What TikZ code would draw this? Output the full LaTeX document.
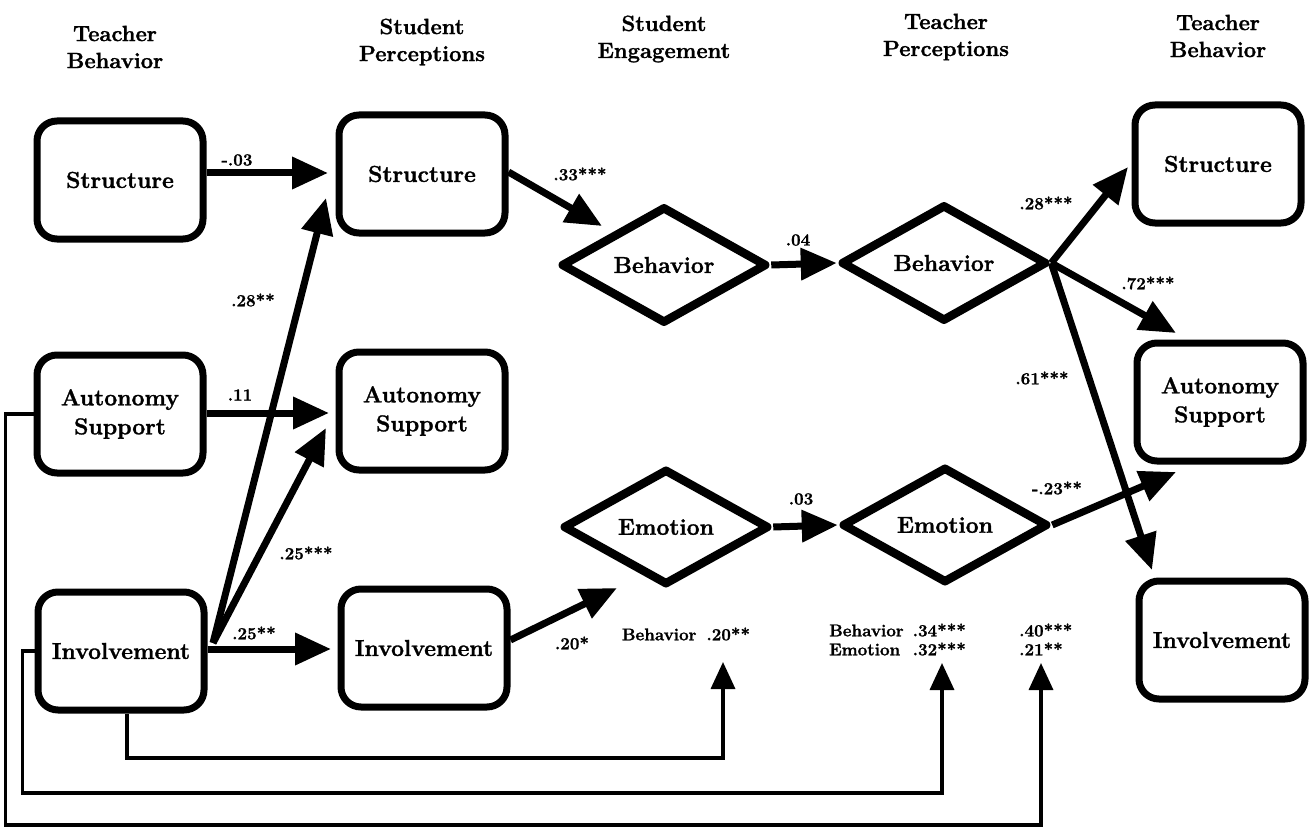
\documentclass[tikz,border=0pt]{standalone}
\usepackage{fontspec}
\setmainfont{Latin Modern Roman}[BoldFeatures={FakeBold=1.3}]
\usetikzlibrary{shapes.geometric,arrows.meta,calc}
\begin{document}
\begin{tikzpicture}[x=1pt,y=-1pt,
  box/.style={draw, line width=7pt, rounded corners=20pt, minimum width=166pt, minimum height=118pt, inner sep=0pt, align=center, font=\fontsize{23}{29}\selectfont\bfseries},
  dia/.style={draw, diamond, line width=8.5pt, line join=round, minimum width=206pt, minimum height=116pt, inner sep=0pt, font=\fontsize{23}{29}\selectfont\bfseries},
  hdr/.style={align=center, font=\fontsize{22}{27}\selectfont\bfseries, inner sep=0pt},
  lab/.style={font=\fontsize{17}{20}\selectfont\bfseries, inner sep=0pt},
  blab/.style={font=\fontsize{17}{19}\selectfont\bfseries, inner sep=0pt},
  bigarr/.style={line width=7pt, -{Triangle[length=36pt,width=31pt]}},
  thinarr/.style={line width=3.5pt, -{Triangle[length=27pt,width=24pt]}},
]
\useasboundingbox (0,0) rectangle (1310,832);

% headers
\node[hdr] (h1) at (115,47) {Teacher\\Behavior};
\node[hdr] (h2) at (422,42) {Student\\Perceptions};
\node[hdr] (h3) at (664,39) {Student\\Engagement};
\node[hdr] (h4) at (946,37) {Teacher\\Perceptions};
\node[hdr] (h5) at (1218,36) {Teacher\\Behavior};

% boxes
\node[box] (LS) at (120,180) {Structure};
\node[box] (LA) at (120,414) {Autonomy\\Support};
\node[box] (LI) at (121,651) {Involvement};
\node[box] (MS) at (422,174) {Structure};
\node[box] (MA) at (422,411) {Autonomy\\Support};
\node[box] (MI) at (424,648) {Involvement};
\node[box] (RS) at (1218,164) {Structure};
\node[box] (RA) at (1220,402) {Autonomy\\Support};
\node[box] (RI) at (1222,640) {Involvement};

% diamonds
\node[dia] (B1) at (664,265) {Behavior};
\node[dia] (B2) at (944,263) {Behavior};
\node[dia] (E1) at (666,527) {Emotion};
\node[dia] (E2) at (945,525) {Emotion};

% arrow tips / helper coordinates
\coordinate (tS1) at (328,173);
\coordinate (fan) at (213,643);
\coordinate (tS2) at (326,198);
\coordinate (tA1) at (329,413);
\coordinate (tA2) at (326,428);
\coordinate (tI1) at (331,649);
\coordinate (tB1) at (602,226);
\coordinate (tE1) at (617,588);
\coordinate (tRS) at (1128,167);
\coordinate (tRA) at (1176,333);
\coordinate (tRI) at (1152,570);
\coordinate (tRA2) at (1176,472);
\coordinate (c20) at (723,662);
\coordinate (c34) at (942,663);
\coordinate (c40) at (1041,663);
\coordinate (b1) at (723,758);
\coordinate (b2) at (942,793);
\coordinate (b3) at (1041,825);

% thick arrows
\draw[bigarr] (LS.east |- tS1) -- (tS1);
\draw[bigarr] (fan) -- (tS2);
\draw[bigarr] (LA.east |- tA1) -- (tA1);
\draw[bigarr] (fan) -- (tA2);
\draw[bigarr] (LI.east |- tI1) -- (tI1);
\draw[bigarr] ([yshift=2pt]MS.east) -- (tB1);
\draw[bigarr] ([yshift=8pt]MI.east) -- (tE1);
\draw[bigarr] (B1.east) -- (B2.west);
\draw[bigarr] (E1.east) -- (E2.west);
\draw[bigarr] (B2.east) -- (tRS);
\draw[bigarr] (B2.east) -- (tRA);
\draw[bigarr] (B2.east) -- (tRI);
\draw[bigarr] (E2.east) -- (tRA2);

% thin connectors
\draw[thinarr] ([xshift=6pt]LI.south) |- (b1) -- (c20);
\draw[thinarr] (LI.west) -- ++(-12,0) |- (b2) -- (c34);
\draw[thinarr] (LA.west) -- ++(-28,0) |- (b3) -- (c40);

% path labels
\node[lab] (l1) at (237,160) {-.03};
\node[lab] (l2) at (253,300) {.28**};
\node[lab] (l3) at (240,395) {.11};
\node[lab] (l4) at (306,553) {.25***};
\node[lab] (l5) at (254,633) {.25**};
\node[lab] (l6) at (580,174) {.33***};
\node[lab] (l7) at (798,240) {.04};
\node[lab] (l8) at (801,499) {.03};
\node[lab] (l9) at (572,643) {.20*};
\node[lab] (l10) at (1046,203) {.28***};
\node[lab] (l11) at (1148,283) {.72***};
\node[lab] (l12) at (1042,378) {.61***};
\node[lab] (l13) at (1057,488) {-.23**};

% bottom labels
\node[blab] (lb1) at (686,634) {Behavior\hspace{10pt}.20**};
\node[blab, anchor=west] (lb2) at (829,642) {\begin{tabular}{@{}l@{\hspace{9pt}}l@{}}Behavior & .34***\\ Emotion & .32***\end{tabular}};
\node[blab, anchor=west] (lb3) at (1019,642) {\begin{tabular}{@{}l@{}}.40***\\ .21**\end{tabular}};
\end{tikzpicture}
\end{document}
